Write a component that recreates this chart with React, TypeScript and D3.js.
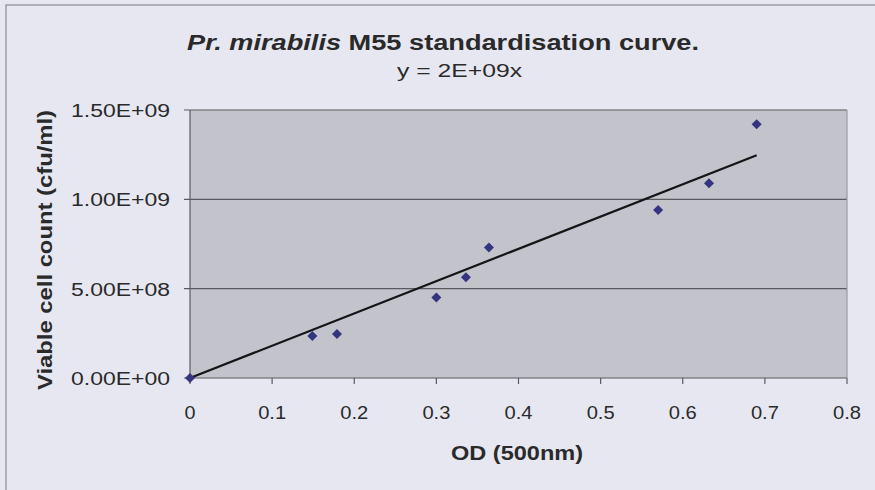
import React from "react";
import * as d3 from "d3";

const odValues = [0, 0.149, 0.179, 0.3, 0.336, 0.364, 0.57, 0.632, 0.69];
const cellCounts = [0, 2.35e8, 2.46e8, 4.5e8, 5.64e8, 7.3e8, 9.4e8, 1.09e9, 1.42e9];
const xTicks = [0, 0.1, 0.2, 0.3, 0.4, 0.5, 0.6, 0.7, 0.8];
const yTicks = [0, 5e8, 1e9, 1.5e9];
const yTickLabels = ["0.00E+00", "5.00E+08", "1.00E+09", "1.50E+09"];
const titleItalic = "Pr. mirabilis";
const titleRest = " M55 standardisation curve.";
const equation = "y = 2E+09x";
const xTitle = "OD (500nm)";
const yTitle = "Viable cell count (cfu/ml)";

export default function App() {
  const W = 875, H = 490;
  const left = 190, right = 847, top = 110, bottom = 378;
  const x = d3.scaleLinear().domain([0, 0.8]).range([left, right]);
  const y = d3.scaleLinear().domain([0, 1.5e9]).range([bottom, top]);

  // least squares through origin
  const sxy = d3.sum(odValues.map((v, i) => v * cellCounts[i]));
  const sxx = d3.sum(odValues.map((v) => v * v));
  const slope = sxy / sxx;
  const xmax = d3.max(odValues) as number;
  const line = d3.line<number>().x((d) => x(d)).y((d) => y(slope * d));
  const diamond = d3.symbol().type(d3.symbolDiamond2).size(64)() as string;

  const font = "Arial, 'Liberation Sans', sans-serif";
  const textCol = "#2a2a2a";

  return (
    <svg width={W} height={H} style={{ position: "absolute", left: 0, top: 0 }} fontFamily={font}>
      <rect x={0} y={0} width={W} height={H} fill="#e7e7f1" />
      <rect x={6} y={5} width={W + 10} height={H + 10} fill="none" stroke="#8a8a90" strokeWidth={1.2} />
      <rect x={left} y={top} width={right - left} height={bottom - top} fill="#c3c3cc" />
      {yTicks.map((t) => (
        <line key={"g" + t} x1={left - 6} x2={right} y1={y(t)} y2={y(t)} stroke="#5a5a5e" strokeWidth={1.2} />
      ))}
      <line x1={right} x2={right} y1={top} y2={bottom} stroke="#9a9aa0" strokeWidth={1.2} />
      <line x1={left} x2={left} y1={top} y2={bottom} stroke="#5a5a5e" strokeWidth={1.2} />
      {xTicks.map((t) => (
        <line key={"xt" + t} x1={x(t)} x2={x(t)} y1={bottom} y2={bottom + 6} stroke="#5a5a5e" strokeWidth={1.2} />
      ))}
      {xTicks.map((t) => {
        const s = String(t);
        return (
          <text key={"xl" + t} x={x(t)} y={419} textAnchor="middle" fontSize={19} fill={textCol}
            textLength={s.length === 1 ? 11 : 28} lengthAdjust="spacingAndGlyphs">
            {s}
          </text>
        );
      })}
      {yTicks.map((t, i) => (
        <text key={"yl" + t} x={170} y={y(t) + 7} textAnchor="end" fontSize={18} fill={textCol}
          textLength={99} lengthAdjust="spacingAndGlyphs">
          {yTickLabels[i]}
        </text>
      ))}
      <path d={line([0, xmax]) as string} stroke="#151515" strokeWidth={2.2} fill="none" />
      {odValues.map((v, i) => (
        <path key={"p" + i} d={diamond} transform={`translate(${x(v)},${y(cellCounts[i])})`} fill="#343480" />
      ))}
      <text x={443} y={50} textAnchor="middle" fontSize={22} fontWeight="bold" fill={textCol}
        textLength={512} lengthAdjust="spacingAndGlyphs">
        <tspan fontStyle="italic">{titleItalic}</tspan>
        <tspan>{titleRest}</tspan>
      </text>
      <text x={459.5} y={77} textAnchor="middle" fontSize={18} fill={textCol}
        textLength={125} lengthAdjust="spacingAndGlyphs">
        {equation}
      </text>
      <text x={517} y={460} textAnchor="middle" fontSize={20} fontWeight="bold" fill={textCol}
        textLength={132} lengthAdjust="spacingAndGlyphs">
        {xTitle}
      </text>
      <text transform={`translate(52,250) rotate(-90)`} textAnchor="middle" fontSize={21} fontWeight="bold" fill={textCol}
        textLength={280} lengthAdjust="spacingAndGlyphs">
        {yTitle}
      </text>
    </svg>
  );
}
